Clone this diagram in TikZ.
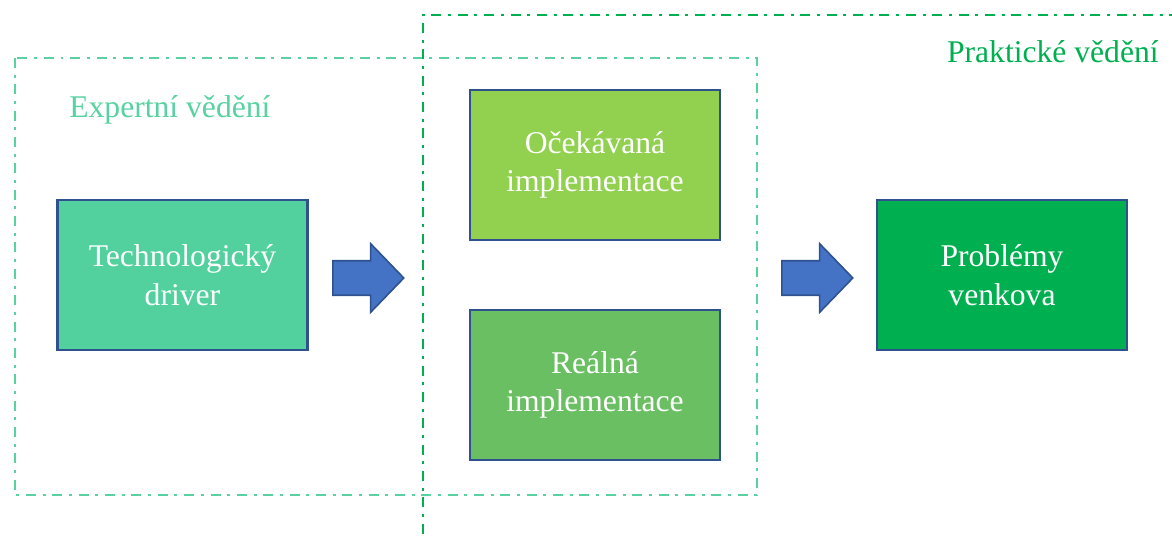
\documentclass[tikz,border=0pt]{standalone}
\usepackage{fontspec}
\setmainfont{Liberation Serif}
\usepackage{xcolor}
\usepackage{tikz}
\usetikzlibrary{shapes,arrows,positioning,calc}

\definecolor{expertgreen}{RGB}{87,210,160}
\definecolor{praxgreen}{RGB}{0,176,80}
\definecolor{techfill}{RGB}{82,209,158}
\definecolor{ocekfill}{RGB}{146,208,80}
\definecolor{realfill}{RGB}{107,191,99}
\definecolor{probfill}{RGB}{0,176,80}
\definecolor{edgeblue}{RGB}{47,82,143}
\definecolor{arrowblue}{RGB}{68,114,196}

\begin{document}
\begin{tikzpicture}[x=0.02cm, y=-0.02cm]
\tikzset{
block/.style     = {draw=edgeblue, line width=1.4pt, shape=rectangle, minimum width=5cm, minimum height=3cm, text=white, align=center, font=\fontsize{18}{22}\selectfont},
bigarrow/.style  = {draw=edgeblue, line width=0.9pt, fill=arrowblue, shape=single arrow, minimum height=1.42cm, text height=0.66cm, text depth=0pt, text width=0pt, single arrow head extend=0.34cm, single arrow tip angle=92, inner sep=0pt, anchor=tail},
zone/.style      = {line width=1.3pt, dash pattern=on 5.7pt off 3.8pt on 1.7pt off 3.8pt},
zonelabel/.style = {font=\fontsize{18}{22}\selectfont, inner sep=0pt},
}
    \useasboundingbox (0,0) rectangle (1172,540);

    % Zones
    \draw [zone, draw=expertgreen] (15,58) rectangle (757,495);
    \draw [zone, draw=praxgreen]   (423,560) -- (423,15) -- (1190,15);
    \node [zonelabel, text=expertgreen, anchor=base west] (expert_label) at (69,118)   {Expertní vědění};
    \node [zonelabel, text=praxgreen, anchor=base east]   (prax_label)   at (1159,63)  {Praktické vědění};

    % Box nodes
    \node [block, fill=techfill]  (tech_driver) at (182.5,275) {Technologický\\driver};
    \node [block, fill=ocekfill]  (ocek_impl)   at (595,165)   {Očekávaná\\implementace};
    \node [block, fill=realfill]  (real_impl)   at (595,385)   {Reálná\\implementace};
    \node [block, fill=probfill]  (problems)    at (1002,275)  {Problémy\\venkova};

    % Block arrows
    \node [bigarrow] (arrow_in)  at (332,278) {};
    \node [bigarrow] (arrow_out) at (781,278) {};

\end{tikzpicture}
\end{document}
